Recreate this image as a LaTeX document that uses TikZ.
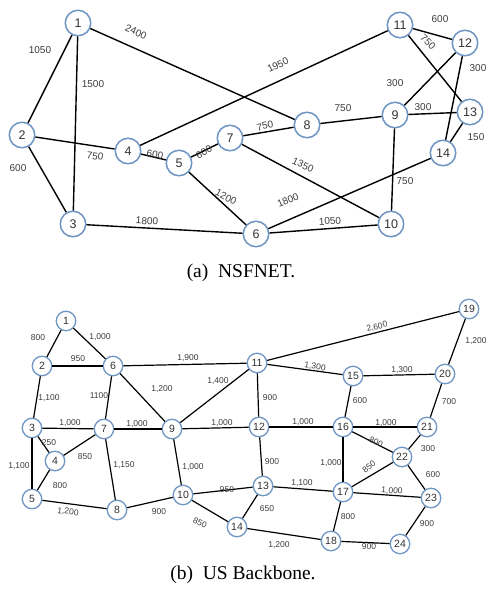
\documentclass[tikz,border=0pt]{standalone}
\usepackage{fontspec}
\setmainfont{Liberation Serif}
\setsansfont{Liberation Sans}
\definecolor{nodeblue}{RGB}{112,150,196}
\definecolor{lblgray}{RGB}{60,60,60}
\begin{document}
\begin{tikzpicture}[x=1pt,y=-1pt,
  tn/.style={circle, draw=nodeblue, line width=1.5pt, fill=white, minimum size=25.5pt, inner sep=0pt, font=\sffamily\fontsize{12.5}{12.5}\selectfont, text=black!80},
  bn/.style={circle, draw=nodeblue, line width=1.3pt, fill=white, minimum size=19.5pt, inner sep=0pt, font=\sffamily\fontsize{10.5}{10.5}\selectfont, text=black!80},
  tl/.style={font=\sffamily\fontsize{10}{10}\selectfont, text=lblgray, inner sep=0pt},
  bl/.style={font=\sffamily\fontsize{8.5}{8.5}\selectfont, text=lblgray, inner sep=0pt},
  te/.style={line width=1.4pt, black},
  be/.style={line width=1.2pt, black},
  captxt/.style={font=\fontsize{19.5}{22}\selectfont, inner sep=0pt}]
\useasboundingbox (0,0) rectangle (485,592);
% ---------------- (a) NSFNET ----------------
\node[tn] (t1) at (78,23) {1};
\node[tn] (t2) at (22,135) {2};
\node[tn] (t3) at (73,224) {3};
\node[tn] (t4) at (128,151) {4};
\node[tn] (t5) at (179,163) {5};
\node[tn] (t6) at (256,234) {6};
\node[tn] (t7) at (230,138) {7};
\node[tn] (t8) at (307,125) {8};
\node[tn] (t9) at (395,115) {9};
\node[tn] (t10) at (391,224) {10};
\node[tn] (t11) at (400,25) {11};
\node[tn] (t12) at (465,43) {12};
\node[tn] (t13) at (470,112) {13};
\node[tn] (t14) at (443,153) {14};
\foreach \a/\b in {1/2,1/3,1/8,2/3,2/4,3/6,4/5,4/11,5/7,5/6,7/8,7/10,8/9,9/13,9/12,9/10,11/12,11/13,12/14,13/14,6/14,6/10}
  \draw[te] (t\a) -- (t\b);
\node[tl] (la1) at (40,50) {1050};
\node[tl] (la2) at (93,84) {1500};
\node[tl, rotate=-24] (la3) at (136,32) {2400};
\node[tl] (la4) at (18,168) {600};
\node[tl, rotate=-8] (la5) at (95,156) {750};
\node[tl, rotate=-10] (la6) at (155,155) {600};
\node[tl, rotate=30] (la7) at (204,152) {600};
\node[tl, rotate=-28] (la8) at (226,197) {1200};
\node[tl, rotate=-3] (la9) at (147,221) {1800};
\node[tl, rotate=25] (la10) at (278,65) {1950};
\node[tl, rotate=12] (la11) at (265,126) {750};
\node[tl] (la12) at (343,108) {750};
\node[tl, rotate=-25] (la13) at (303,165) {1350};
\node[tl, rotate=23] (la14) at (288,200) {1800};
\node[tl, rotate=3] (la15) at (330,221) {1050};
\node[tl] (la16) at (405,181) {750};
\node[tl] (la17) at (395,83) {300};
\node[tl] (la18) at (423,107) {300};
\node[tl] (la19) at (440,19) {600};
\node[tl, rotate=-45] (la20) at (428,42) {750};
\node[tl] (la21) at (478,68) {300};
\node[tl] (la22) at (476,137) {150};
\node[captxt] (capa) at (241,273) {(a)\ \ NSFNET.};
% ---------------- (b) US Backbone ----------------
\node[bn] (b1) at (66,321) {1};
\node[bn] (b2) at (42,366) {2};
\node[bn] (b3) at (32,428) {3};
\node[bn] (b4) at (55,461) {4};
\node[bn] (b5) at (32,499) {5};
\node[bn] (b6) at (113,366) {6};
\node[bn] (b7) at (104,429) {7};
\node[bn] (b8) at (117,510) {8};
\node[bn] (b9) at (172,429) {9};
\node[bn] (b10) at (183,495) {10};
\node[bn] (b11) at (257,363) {11};
\node[bn] (b12) at (259,427) {12};
\node[bn] (b13) at (263,486) {13};
\node[bn] (b14) at (237,527) {14};
\node[bn] (b15) at (353,376) {15};
\node[bn] (b16) at (343,427) {16};
\node[bn] (b17) at (343,492) {17};
\node[bn] (b18) at (331,541) {18};
\node[bn] (b19) at (469,309) {19};
\node[bn] (b20) at (445,374) {20};
\node[bn] (b21) at (427,427) {21};
\node[bn] (b22) at (402,457) {22};
\node[bn] (b23) at (431,498) {23};
\node[bn] (b24) at (400,544) {24};
\foreach \a/\b in {1/2,1/6,2/6,2/3,6/7,6/9,6/11,3/7,3/4,3/5,4/7,4/5,5/8,7/8,7/9,9/11,9/12,9/10,8/10,10/13,10/14,11/19,11/15,11/12,15/20,15/16,19/20,20/21,12/16,12/13,16/21,16/22,16/17,21/22,22/17,22/23,13/17,13/14,17/23,17/18,14/18,18/24,24/23}
  \draw[be] (b\a) -- (b\b);
\node[bl] (lb1) at (38,338) {800};
\node[bl] (lb2) at (100,337) {1,000};
\node[bl] (lb3) at (78,359) {950};
\node[bl] (lb4) at (49,398) {1,100};
\node[bl] (lb5) at (99,396) {1100};
\node[bl] (lb6) at (162,389) {1,200};
\node[bl] (lb7) at (188,358) {1,900};
\node[bl] (lb8) at (218,381) {1,400};
\node[bl] (lb9) at (70,423) {1,000};
\node[bl] (lb10) at (49,443) {250};
\node[bl] (lb11) at (85,457) {850};
\node[bl] (lb12) at (19,466) {1,100};
\node[bl] (lb13) at (60,486) {800};
\node[bl] (lb14) at (124,465) {1,150};
\node[bl] (lb15) at (137,424) {1,000};
\node[bl] (lb16) at (222,423) {1,000};
\node[bl] (lb17) at (193,467) {1,000};
\node[bl, rotate=-7] (lb18) at (68,512) {1,200};
\node[bl] (lb19) at (159,512) {900};
\node[bl] (lb20) at (227,490) {950};
\node[bl, rotate=-25] (lb21) at (200,523) {850};
\node[bl, rotate=14] (lb22) at (377,327) {2,600};
\node[bl] (lb23) at (476,341) {1,200};
\node[bl, rotate=-8] (lb24) at (315,367) {1,300};
\node[bl] (lb25) at (402,370) {1,300};
\node[bl] (lb26) at (270,398) {900};
\node[bl] (lb27) at (360,401) {600};
\node[bl] (lb28) at (449,402) {700};
\node[bl] (lb29) at (303,422) {1,000};
\node[bl] (lb30) at (386,423) {1,000};
\node[bl, rotate=-27] (lb31) at (376,442) {800};
\node[bl] (lb32) at (428,449) {300};
\node[bl] (lb33) at (272,462) {900};
\node[bl] (lb34) at (331,463) {1,000};
\node[bl, rotate=40] (lb35) at (369,467) {850};
\node[bl] (lb36) at (433,475) {600};
\node[bl] (lb37) at (302,483) {1,100};
\node[bl, rotate=-4] (lb38) at (392,491) {1,000};
\node[bl] (lb39) at (267,509) {650};
\node[bl] (lb40) at (348,517) {800};
\node[bl] (lb41) at (427,524) {900};
\node[bl] (lb42) at (279,545) {1,200};
\node[bl] (lb43) at (369,547) {900};
\node[captxt] (capb) at (243,575) {(b)\ \ US Backbone.};
\end{tikzpicture}
\end{document}
